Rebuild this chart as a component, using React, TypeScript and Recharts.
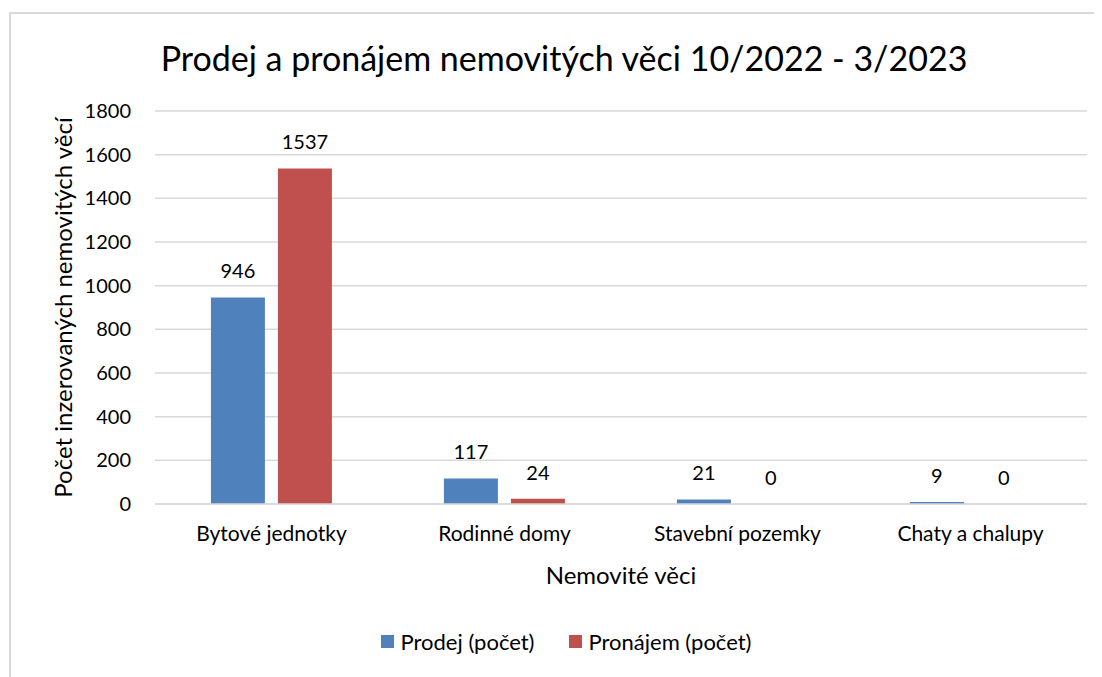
import { BarChart, Bar, XAxis, YAxis, CartesianGrid, Legend, LabelList } from 'recharts'

const categories = ['Bytové jednotky', 'Rodinné domy', 'Stavební pozemky', 'Chaty a chalupy']
const prodej = [946, 117, 21, 9]
const pronajem = [1537, 24, 0, 0]
const yTicks = [0, 200, 400, 600, 800, 1000, 1200, 1400, 1600, 1800]

const chartData = categories.map((name, i) => ({
  name,
  prodej: prodej[i],
  pronajem: pronajem[i],
}))

const FONT = 'Lato, "Noto Sans", sans-serif'

// zero values still need their "0" label, so give them a hairline height
const tinyMin = (value: any) => (value === 0 ? 0.01 : 0)

// legend drawn as simple row of squares + labels
const renderLegend = (props: any) => {
  const { payload } = props
  return (
    <div style={{ display: 'flex', justifyContent: 'center', gap: 34, fontFamily: FONT, fontSize: 22, color: '#000' }}>
      {payload.map((entry: any) => (
        <div key={entry.value} style={{ display: 'flex', alignItems: 'center' }}>
          <span style={{ display: 'inline-block', width: 13, height: 13, background: entry.color, marginRight: 7 }} />
          <span>{entry.value}</span>
        </div>
      ))}
    </div>
  )
}

export default function App() {
  return (
    <div
      style={{
        position: 'relative',
        marginLeft: 1,
        marginTop: 4,
        width: 1091,
        height: 663,
        borderLeft: '2px solid #d9d9d9',
        borderTop: '2px solid #d9d9d9',
        background: '#fff',
        fontFamily: FONT,
      }}
    >
      <div
        style={{
          position: 'absolute',
          left: 53,
          top: 26,
          width: 1000,
          textAlign: 'center',
          fontSize: 34,
          lineHeight: '36px',
          color: '#000',
        }}
      >
        Prodej a pronájem nemovitých věci 10/2022 - 3/2023
      </div>
      <BarChart
        width={1091}
        height={663}
        data={chartData}
        margin={{ top: 97, right: 15, left: 64, bottom: 93 }}
        barCategoryGap="24%"
        barGap={13}
      >
        <CartesianGrid vertical={false} stroke="#d9d9d9" strokeWidth={1.5} />
        <XAxis
          dataKey="name"
          height={80}
          tickLine={false}
          tickSize={0}
          tickMargin={22}
          axisLine={{ stroke: '#d9d9d9', strokeWidth: 1.5 }}
          tick={{ fontSize: 21, fill: '#000', fontFamily: FONT }}
          label={{ value: 'Nemovité věci', position: 'insideBottom', offset: 0, fontSize: 24, fill: '#000', fontFamily: FONT }}
        />
        <YAxis
          width={80}
          domain={[0, 1800]}
          ticks={yTicks}
          axisLine={false}
          tickLine={false}
          tickSize={0}
          tickMargin={24}
          tick={{ fontSize: 20, fill: '#000', fontFamily: FONT }}
          label={{
            value: 'Počet inzerovaných nemovitých věcí',
            angle: -90,
            position: 'insideLeft',
            offset: -12,
            fontSize: 24,
            fill: '#000',
            fontFamily: FONT,
            style: { textAnchor: 'middle' },
          }}
        />
        <Legend
          layout="horizontal"
          verticalAlign="middle"
          align="center"
          content={renderLegend}
          wrapperStyle={{ position: 'absolute', top: 614, left: 55, width: 1000 }}
        />
        <Bar dataKey="prodej" name="Prodej (počet)" fill="#4f81bd" minPointSize={tinyMin} isAnimationActive={false}>
          <LabelList dataKey="prodej" position="top" offset={19} fontSize={20} fill="#000" fontFamily={FONT} />
        </Bar>
        <Bar dataKey="pronajem" name="Pronájem (počet)" fill="#c0504d" minPointSize={tinyMin} isAnimationActive={false}>
          <LabelList dataKey="pronajem" position="top" offset={19} fontSize={20} fill="#000" fontFamily={FONT} />
        </Bar>
      </BarChart>
    </div>
  )
}
